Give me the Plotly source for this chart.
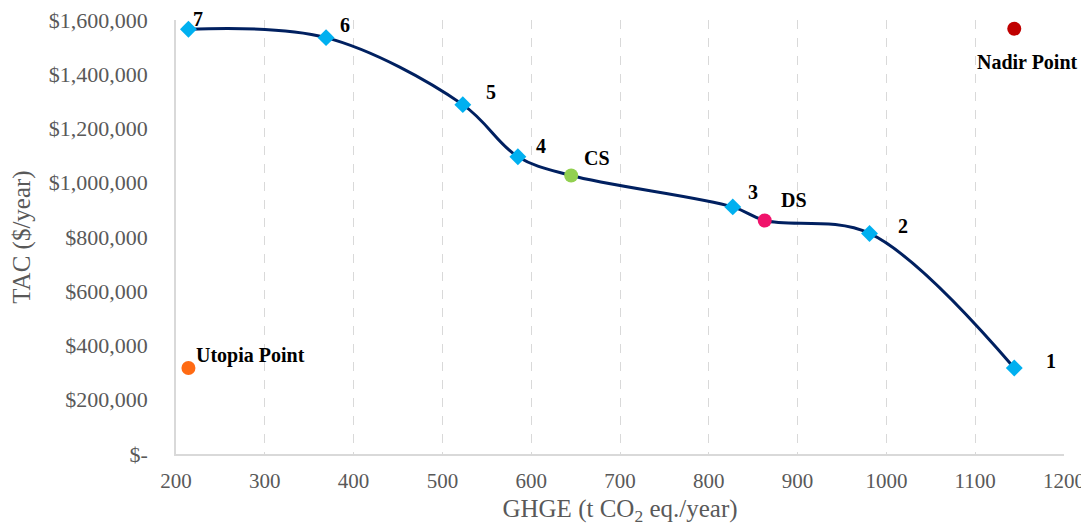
import plotly.graph_objects as go

# Pareto front (smoothed line) including the CS and DS solutions
front_labels = ["7", "6", "5", "4", "CS", "3", "DS", "2", "1"]
front_ghge = [214, 369, 523, 585, 645, 827, 863, 981, 1144]
front_tac = [1566000, 1535000, 1288000, 1096000, 1027000, 911000, 861000, 813000, 317000]

# numbered Pareto solutions (diamonds)
sol_labels = ["7", "6", "5", "4", "3", "2", "1"]
sol_ghge = [214, 369, 523, 585, 827, 981, 1144]
sol_tac = [1566000, 1535000, 1288000, 1096000, 911000, 813000, 317000]

# special points
special_labels = ["CS", "DS", "Utopia Point", "Nadir Point"]
special_ghge = [645, 863, 214, 1144]
special_tac = [1027000, 861000, 317000, 1568000]
special_colors = ["#92D050", "#F0136B", "#FF6A13", "#C00000"]

# axes ticks
x_ticks = [200, 300, 400, 500, 600, 700, 800, 900, 1000, 1100, 1200]
y_ticks = [0, 200000, 400000, 600000, 800000, 1000000, 1200000, 1400000, 1600000]
y_ticktext = ["$-", "$200,000", "$400,000", "$600,000", "$800,000",
              "$1,000,000", "$1,200,000", "$1,400,000", "$1,600,000"]

FONT = "Liberation Serif"
GRAY = "#595959"

fig = go.Figure()

fig.add_trace(go.Scatter(
    x=front_ghge, y=front_tac, mode="lines",
    line=dict(color="#002060", width=3, shape="spline", smoothing=1.0),
    hoverinfo="skip", showlegend=False,
))

fig.add_trace(go.Scatter(
    x=sol_ghge, y=sol_tac, mode="markers",
    marker=dict(symbol="diamond", size=13, color="#00B0F0"),
    text=sol_labels, showlegend=False,
))

fig.add_trace(go.Scatter(
    x=special_ghge, y=special_tac, mode="markers",
    marker=dict(symbol="circle", size=14, color=special_colors),
    text=special_labels, showlegend=False,
))

# label offsets in pixels (xshift, yshift, xanchor)
offsets = {
    "7": (10, 10, "center"),
    "6": (19, 13, "center"),
    "5": (28, 13, "center"),
    "4": (23, 11, "center"),
    "CS": (26, 17, "center"),
    "3": (20, 15, "center"),
    "DS": (29, 20, "center"),
    "2": (33, 7, "center"),
    "1": (37, 7, "center"),
    "Utopia Point": (6, 13, "left"),
    "Nadir Point": (13, -33, "center"),
}

all_labels = sol_labels + special_labels
all_x = sol_ghge + special_ghge
all_y = sol_tac + special_tac
for lab, xv, yv in zip(all_labels, all_x, all_y):
    xs, ys, xa = offsets[lab]
    fig.add_annotation(
        x=xv, y=yv, text=f"<b>{lab}</b>", showarrow=False,
        xshift=xs, yshift=ys, xanchor=xa, yanchor="middle",
        font=dict(family=FONT, size=20, color="black"),
    )

# page body adds an 8px margin, so the figure is sized to fit the window
fig.update_layout(
    width=1081, height=518,
    margin=dict(l=168, r=25, t=12, b=72),
    paper_bgcolor="white", plot_bgcolor="white",
    font=dict(family=FONT, size=21, color=GRAY),
)

fig.update_xaxes(
    range=[200, 1200], tickvals=x_ticks, automargin=False,
    showgrid=True, gridcolor="#D9D9D9", griddash="dash", gridwidth=1,
    showline=True, linecolor="#D9D9D9", linewidth=1.5,
    zeroline=False, ticks="", ticklabelstandoff=7, ticklabeloverflow="allow",
    tickfont=dict(family=FONT, size=21, color=GRAY),
    title=dict(text="GHGE (t CO<sub>2</sub> eq./year)",
               font=dict(family=FONT, size=25, color=GRAY), standoff=9),
)

fig.update_yaxes(
    range=[0, 1600000], tickvals=y_ticks, ticktext=y_ticktext, automargin=False,
    showgrid=False, showline=True, linecolor="#D9D9D9", linewidth=1.5,
    zeroline=False, ticks="", ticklabelstandoff=22, ticklabeloverflow="allow",
    tickfont=dict(family=FONT, size=22, color=GRAY),
    title=dict(text="TAC ($/year)",
               font=dict(family=FONT, size=25, color=GRAY), standoff=14),
)

fig.write_html("out.html")
